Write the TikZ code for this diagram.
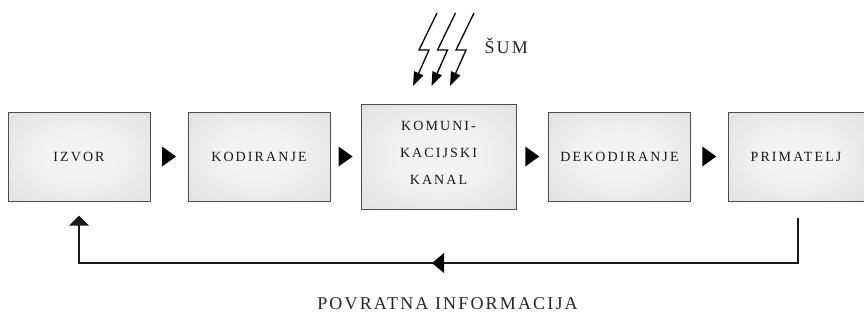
\documentclass[tikz,border=0pt]{standalone}
\usepackage{fontspec}
\setmainfont{Liberation Serif}
\newfontfamily\boxfont[LetterSpace=15]{Liberation Serif}
\newfontfamily\bigfont[LetterSpace=12]{Liberation Serif}
\usetikzlibrary{arrows.meta,calc}

\definecolor{edgegray}{HTML}{4C4C4C}
\definecolor{fillcenter}{HTML}{F3F3F3}
\definecolor{filledge}{HTML}{D6D6D6}

% soft glow: light in the middle, grey towards the border
\pgfdeclareradialshading{boxglow}{\pgfpoint{0bp}{0bp}}{%
  color(0bp)=(fillcenter); color(12bp)=(fillcenter); color(50bp)=(filledge)}

\tikzset{
  boxtext/.style={align=center, text=black!90, inner sep=0pt,
    font={\boxfont\fontsize{14}{27}\selectfont}},
  stage/.style={boxtext, draw=edgegray, line width=1pt, shading=boxglow,
    minimum width=142pt, minimum height=89pt},
  flowtip/.style={fill=black},
  feedback/.style={line width=2.4pt, draw=black!90},
  bolt/.style={line width=1.3pt, line join=miter,
    -{Triangle[length=14pt,width=10pt]}},
  caption/.style={font={\bigfont\fontsize{18}{20}\selectfont}, text=black!85}
}

\begin{document}
\begin{tikzpicture}[x=1pt,y=-1pt]
  \useasboundingbox (0,0) rectangle (864,321);

  % the five stages of the communication chain
  \node[stage] (izvor) at (79,156.5) {IZVOR};
  \node[stage] (kod) at (259,156.5) {KODIRANJE};
  \node[stage, minimum width=155pt, minimum height=105pt] (kanal) at (438.5,156.5) {};
  \node[boxtext] (kanaltxt) at ([yshift=4pt]kanal.center) {KOMUNI-\\KACIJSKI\\KANAL};
  \node[stage] (dekod) at (619.5,156.5) {DEKODIRANJE};
  \node[stage, minimum width=136pt] (prim) at (796,156.5) {PRIMATELJ};

  % solid arrowheads between neighbouring stages
  \foreach \a/\b in {izvor/kod, kod/kanal, kanal/dekod, dekod/prim}{
    \fill[flowtip] ($(\a.east)!0.5!(\b.west)$) ++(-7,-10) -- ++(14,10) -- ++(-14,10) -- cycle;
  }

  % noise: three lightning bolts striking the channel
  \foreach \dx in {0,18.5,37}{
    \draw[bolt] (437+\dx,13) -- (419+\dx,50) -- (429+\dx,50) -- (413+\dx,86);
  }
  \node[caption, anchor=base west] (sum) at (481,53) {ŠUM};

  % feedback loop from the receiver back to the source
  \coordinate (fbstart) at ($(prim.south)+(2,16)$);
  \coordinate (fbend) at ($(izvor.south)+(0,14)$);
  \coordinate (fbcorner) at (79,263);
  \coordinate (fbmid) at (438,263);
  \draw[feedback, -{Triangle[length=10pt,width=19pt]}]
    (fbstart) |- (fbcorner) -- (fbend);
  \fill[flowtip] (fbmid) ++(-6,0) -- ++(12,-10) -- ++(0,20) -- cycle;

  \node[caption, anchor=base] (fblabel) at (447.5,309) {POVRATNA INFORMACIJA};
\end{tikzpicture}
\end{document}
